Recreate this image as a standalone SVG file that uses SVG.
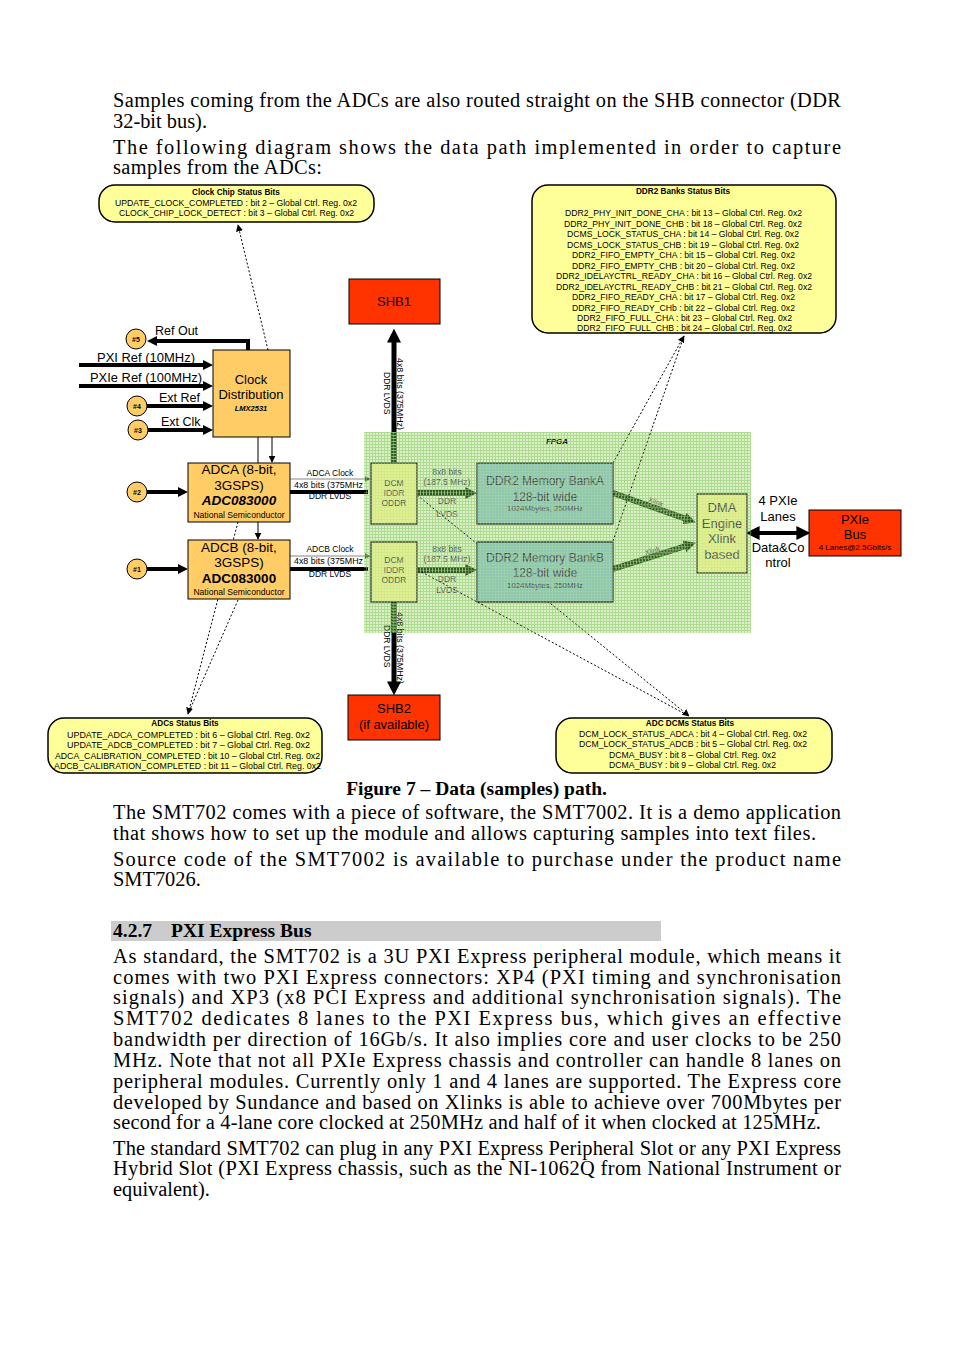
<svg xmlns="http://www.w3.org/2000/svg" width="954" height="1351" viewBox="0 0 954 1351">
<style>
.body{font-family:"Liberation Serif","Times New Roman",serif;font-size:20px;fill:#000}
.bb{font-family:"Liberation Serif","Times New Roman",serif;font-size:19.5px;font-weight:bold;fill:#000}
.s{font-family:"Liberation Sans",Arial,sans-serif;fill:#000}
.st{font-family:"Liberation Sans",Arial,sans-serif;font-size:8.2px;fill:#000}
.stb{font-family:"Liberation Sans",Arial,sans-serif;font-size:8.2px;font-weight:bold;fill:#000}
.g{font-family:"Liberation Sans",Arial,sans-serif;fill:#4a4a4a}
.c{text-anchor:middle}
.box{stroke:#000;stroke-width:1}
.stat{fill:#ffff99;stroke:#000;stroke-width:1.5}
.dot{fill:none;stroke:#000;stroke-width:1;stroke-dasharray:2,2}
.thick{fill:none;stroke:#000;stroke-width:4}
.gr{fill:none;stroke:#2f5a22;stroke-width:6}
.hatch{fill:none;stroke:#7ea55e;stroke-width:4;stroke-dasharray:1,2}
</style>
<defs>
<pattern id="grid" width="3" height="3" patternUnits="userSpaceOnUse"><rect width="3" height="3" fill="#dcf2c6"/><path d="M0 0.5H3M0.5 0V3" stroke="#a9d98e" stroke-width="1"/></pattern>
<pattern id="gover" width="3" height="3" patternUnits="userSpaceOnUse"><path d="M0 0.5H3M0.5 0V3" stroke="#b4de9a" stroke-width="0.8"/></pattern>
<marker id="a" viewBox="0 0 10 10" refX="4" refY="5" markerWidth="10" markerHeight="10" markerUnits="userSpaceOnUse" orient="auto-start-reverse"><path d="M0,0 L10,5 L0,10 z" fill="#000"/></marker>
<marker id="ab" viewBox="0 0 10 10" refX="4" refY="5" markerWidth="14" markerHeight="14" markerUnits="userSpaceOnUse" orient="auto-start-reverse"><path d="M0,0 L10,5 L0,10 z" fill="#000"/></marker>
<marker id="as" viewBox="0 0 10 10" refX="9" refY="5" markerWidth="7" markerHeight="7" markerUnits="userSpaceOnUse" orient="auto"><path d="M0,0 L10,5 L0,10 z" fill="#000"/></marker>
<marker id="ag" viewBox="0 0 10 10" refX="4" refY="5" markerWidth="12" markerHeight="12" markerUnits="userSpaceOnUse" orient="auto"><path d="M0,0 L10,5 L0,10 z" fill="#2f5a22"/></marker>
<marker id="agt" viewBox="0 0 10 10" refX="9" refY="5" markerWidth="6" markerHeight="6" markerUnits="userSpaceOnUse" orient="auto"><path d="M0,0 L10,5 L0,10 z" fill="#3c6e2c"/></marker>
</defs>

<g id="page-text" transform="translate(113,0) scale(1.02,1)">
<text class="body" x="0" y="107" textLength="713.7" lengthAdjust="spacing">Samples coming from the ADCs are also routed straight on the SHB connector (DDR</text>
<text class="body" x="0" y="128">32-bit bus).</text>
<text class="body" x="0" y="154" textLength="713.7" lengthAdjust="spacing">The following diagram shows the data path implemented in order to capture</text>
<text class="body" x="0" y="174" textLength="204.9" lengthAdjust="spacing">samples from the ADCs:</text>
<text class="body" x="0" y="819" textLength="713.7" lengthAdjust="spacing">The SMT702 comes with a piece of software, the SMT7002. It is a demo application</text>
<text class="body" x="0" y="840" textLength="689.2" lengthAdjust="spacing">that shows how to set up the module and allows capturing samples into text files.</text>
<text class="body" x="0" y="866" textLength="713.7" lengthAdjust="spacing">Source code of the SMT7002 is available to purchase under the product name</text>
<text class="body" x="0" y="886">SMT7026.</text>
</g>
<text class="bb" x="476.5" y="795" text-anchor="middle">Figure 7 – Data (samples) path.</text>
<rect x="111" y="921" width="550" height="20" fill="#cccccc"/>
<text class="bb" x="113" y="937">4.2.7</text>
<text class="bb" x="171" y="937">PXI Express Bus</text>
<g id="page-text-2" transform="translate(113,0) scale(1.02,1)">
<text class="body" x="0" y="963" textLength="713.7" lengthAdjust="spacing">As standard, the SMT702 is a 3U PXI Express peripheral module, which means it</text>
<text class="body" x="0" y="984" textLength="713.7" lengthAdjust="spacing">comes with two PXI Express connectors: XP4 (PXI timing and synchronisation</text>
<text class="body" x="0" y="1004" textLength="713.7" lengthAdjust="spacing">signals) and XP3 (x8 PCI Express and additional synchronisation signals). The</text>
<text class="body" x="0" y="1025" textLength="713.7" lengthAdjust="spacing">SMT702 dedicates 8 lanes to the PXI Express bus, which gives an effective</text>
<text class="body" x="0" y="1046" textLength="713.7" lengthAdjust="spacing">bandwidth per direction of 16Gb/s. It also implies core and user clocks to be 250</text>
<text class="body" x="0" y="1067" textLength="713.7" lengthAdjust="spacing">MHz. Note that not all PXIe Express chassis and controller can handle 8 lanes on</text>
<text class="body" x="0" y="1088" textLength="713.7" lengthAdjust="spacing">peripheral modules. Currently only 1 and 4 lanes are supported. The Express core</text>
<text class="body" x="0" y="1109" textLength="713.7" lengthAdjust="spacing">developed by Sundance and based on Xlinks is able to achieve over 700Mbytes per</text>
<text class="body" x="0" y="1129" textLength="694.1" lengthAdjust="spacing">second for a 4-lane core clocked at 250MHz and half of it when clocked at 125MHz.</text>
<text class="body" x="0" y="1155" textLength="713.7" lengthAdjust="spacing">The standard SMT702 can plug in any PXI Express Peripheral Slot or any PXI Express</text>
<text class="body" x="0" y="1175" textLength="713.7" lengthAdjust="spacing">Hybrid Slot (PXI Express chassis, such as the NI-1062Q from National Instrument or</text>
<text class="body" x="0" y="1196">equivalent).</text>
</g>

<g id="fpga">
<rect x="364" y="432" width="387" height="201" fill="url(#grid)"/>
<text class="s" x="557" y="444" font-size="8" font-weight="bold" font-style="italic" text-anchor="middle">FPGA</text>
</g>

<g id="connectors">
<path class="thick" d="M248 350 V341 H153" marker-end="url(#a)"/>
<path class="thick" d="M79 365 H207" marker-end="url(#a)"/>
<path class="thick" d="M79 386 H207" marker-end="url(#a)"/>
<path class="thick" d="M147 406 H207" marker-end="url(#a)"/>
<path class="thick" d="M148 430 H207" marker-end="url(#a)"/>
<path class="thick" d="M147 492 H182" marker-end="url(#a)"/>
<path class="thick" d="M147 569 H182" marker-end="url(#a)"/>
<path d="M258 437 V539" stroke="#000" stroke-width="1" fill="none" marker-end="url(#as)"/>
<path d="M272 437 V462" stroke="#000" stroke-width="1" fill="none" marker-end="url(#as)"/>
<path d="M290 479 H370" stroke="#888" stroke-width="1.2" fill="none" marker-end="url(#agt)"/>
<path class="thick" d="M290 492 H368"/>
<path d="M290 556 H370" stroke="#888" stroke-width="1.2" fill="none" marker-end="url(#agt)"/>
<path class="thick" d="M290 569 H368"/>
<path d="M394 463 V337" stroke="#000" stroke-width="5" fill="none" marker-end="url(#ab)"/>
<path d="M394 601 V687" stroke="#000" stroke-width="5" fill="none" marker-end="url(#ab)"/>
<path d="M394 463 V432 M394 601 V633" stroke="#2f5a22" stroke-width="5" fill="none"/>
<path d="M394 463 V432 M394 601 V633" class="hatch"/>
<path class="gr" d="M417 493 H470" marker-end="url(#ag)"/>
<path class="hatch" d="M417 493 H468"/>
<path class="gr" d="M417 570 H470" marker-end="url(#ag)"/>
<path class="hatch" d="M417 570 H468"/>
<path class="gr" d="M613 493 L689 520" marker-end="url(#ag)"/>
<path class="hatch" d="M613 493 L687 519.3"/>
<path class="gr" d="M613 569 L689 545" marker-end="url(#ag)"/>
<path class="hatch" d="M613 569 L687 545.6"/>
<path class="thick" d="M754 533 H802" marker-start="url(#ab)" marker-end="url(#ab)"/>
<path class="dot" d="M268 350 L238 225" marker-end="url(#as)"/>
<path class="dot" d="M613 463 L684 336" marker-end="url(#as)"/>
<path class="dot" d="M613 541 L684 336"/>
<path class="dot" d="M238 522 L188 714" marker-end="url(#as)"/>
<path class="dot" d="M238 600 L188 714"/>
<path class="dot" d="M417 495 L689 716" marker-end="url(#as)"/>
<path class="dot" d="M418 570 L689 716"/>
</g>

<g id="labels">
<text class="s" x="155" y="335" font-size="12.5">Ref Out</text>
<text class="s" x="97" y="362" font-size="12.5" textLength="98" lengthAdjust="spacingAndGlyphs">PXI Ref (10MHz)</text>
<text class="s" x="90" y="382" font-size="12.5" textLength="112" lengthAdjust="spacingAndGlyphs">PXIe Ref (100MHz)</text>
<text class="s" x="159" y="402" font-size="12.5">Ext Ref</text>
<text class="s" x="161" y="426" font-size="12.5">Ext Clk</text>
<text class="s c" x="330" y="476" font-size="8.5">ADCA Clock</text>
<text class="s" x="294" y="488" font-size="8.5" textLength="69" lengthAdjust="spacingAndGlyphs">4x8 bits (375MHz</text>
<text class="s c" x="330" y="499" font-size="8.5">DDR LVDS</text>
<text class="s c" x="330" y="552" font-size="8.5">ADCB Clock</text>
<text class="s" x="294" y="564" font-size="8.5" textLength="69" lengthAdjust="spacingAndGlyphs">4x8 bits (375MHz</text>
<text class="s c" x="330" y="577" font-size="8.5">DDR LVDS</text>
<text class="s" font-size="8.5" transform="translate(397,358) rotate(90)" textLength="72" lengthAdjust="spacingAndGlyphs">4x8 bits (375MHz)</text>
<text class="s" font-size="8.5" transform="translate(384,372) rotate(90)">DDR LVDS</text>
<text class="s" font-size="8.5" transform="translate(397,612) rotate(90)" textLength="72" lengthAdjust="spacingAndGlyphs">4x8 bits (375MHz)</text>
<text class="s" font-size="8.5" transform="translate(384,625) rotate(90)">DDR LVDS</text>
<text class="g c" x="447" y="475" font-size="8.5">8x8 bits</text>
<text class="g c" x="447" y="485" font-size="8.5">(187.5 MHz)</text>
<text class="g c" x="447" y="504" font-size="8.5">DDR</text>
<text class="g c" x="447" y="517" font-size="8.5">LVDS</text>
<text class="g c" x="447" y="552" font-size="8.5">8x8 bits</text>
<text class="g c" x="447" y="562" font-size="8.5">(187.5 MHz)</text>
<text class="g c" x="447" y="582" font-size="8.5">DDR</text>
<text class="g c" x="447" y="593" font-size="8.5">LVDS</text>
<text class="g c" font-size="7" transform="translate(655,504) rotate(20)">Xlink</text>
<text class="g c" font-size="7" transform="translate(653,553) rotate(-17)">Xlink</text>
<text class="s c" x="778" y="505" font-size="13">4 PXIe</text>
<text class="s c" x="778" y="521" font-size="13">Lanes</text>
<text class="s c" x="778" y="552" font-size="13">Data&amp;Co</text>
<text class="s c" x="778" y="567" font-size="13">ntrol</text>
</g>

<g id="clock-status">
<rect class="stat" x="99" y="185" width="275" height="37" rx="16"/>
<text class="stb c" x="236" y="195">Clock Chip Status Bits</text>
<text class="st" x="115" y="206" textLength="242" lengthAdjust="spacingAndGlyphs">UPDATE_CLOCK_COMPLETED : bit 2 – Global Ctrl. Reg. 0x2</text>
<text class="st" x="119" y="216" textLength="235" lengthAdjust="spacingAndGlyphs">CLOCK_CHIP_LOCK_DETECT : bit 3 – Global Ctrl. Reg. 0x2</text>
</g>

<g id="ddr2-status">
<rect class="stat" x="532" y="185" width="304" height="148" rx="16"/>
<text class="stb c" x="683" y="194">DDR2 Banks Status Bits</text>
<text class="st" x="565" y="216" textLength="237" lengthAdjust="spacingAndGlyphs">DDR2_PHY_INIT_DONE_CHA : bit 13 – Global Ctrl. Reg. 0x2</text>
<text class="st" x="564" y="226.5" textLength="238" lengthAdjust="spacingAndGlyphs">DDR2_PHY_INIT_DONE_CHB : bit 18 – Global Ctrl. Reg. 0x2</text>
<text class="st" x="567" y="237" textLength="232" lengthAdjust="spacingAndGlyphs">DCMS_LOCK_STATUS_CHA : bit 14 – Global Ctrl. Reg. 0x2</text>
<text class="st" x="567" y="247.5" textLength="232" lengthAdjust="spacingAndGlyphs">DCMS_LOCK_STATUS_CHB : bit 19 – Global Ctrl. Reg. 0x2</text>
<text class="st" x="572" y="258" textLength="223" lengthAdjust="spacingAndGlyphs">DDR2_FIFO_EMPTY_CHA : bit 15 – Global Ctrl. Reg. 0x2</text>
<text class="st" x="572" y="268.5" textLength="223" lengthAdjust="spacingAndGlyphs">DDR2_FIFO_EMPTY_CHB : bit 20 – Global Ctrl. Reg. 0x2</text>
<text class="st" x="556" y="279" textLength="256" lengthAdjust="spacingAndGlyphs">DDR2_IDELAYCTRL_READY_CHA : bit 16 – Global Ctrl. Reg. 0x2</text>
<text class="st" x="556" y="289.5" textLength="256" lengthAdjust="spacingAndGlyphs">DDR2_IDELAYCTRL_READY_CHB : bit 21 – Global Ctrl. Reg. 0x2</text>
<text class="st" x="572" y="300" textLength="223" lengthAdjust="spacingAndGlyphs">DDR2_FIFO_READY_CHA : bit 17 – Global Ctrl. Reg. 0x2</text>
<text class="st" x="572" y="310.5" textLength="223" lengthAdjust="spacingAndGlyphs">DDR2_FIFO_READY_CHb : bit 22 – Global Ctrl. Reg. 0x2</text>
<text class="st" x="577" y="321" textLength="215" lengthAdjust="spacingAndGlyphs">DDR2_FIFO_FULL_CHA : bit 23 – Global Ctrl. Reg. 0x2</text>
<text class="st" x="577" y="331" textLength="215" lengthAdjust="spacingAndGlyphs">DDR2_FIFO_FULL_CHB : bit 24 – Global Ctrl. Reg. 0x2</text>
</g>

<g id="adcs-status">
<rect class="stat" x="48" y="718" width="274" height="55" rx="16"/>
<text class="stb c" x="185" y="726">ADCs Status Bits</text>
<text class="st" x="67" y="737.5" textLength="243" lengthAdjust="spacingAndGlyphs">UPDATE_ADCA_COMPLETED : bit 6 – Global Ctrl. Reg. 0x2</text>
<text class="st" x="67" y="748" textLength="243" lengthAdjust="spacingAndGlyphs">UPDATE_ADCB_COMPLETED : bit 7 – Global Ctrl. Reg. 0x2</text>
<text class="st" x="55" y="758.5" textLength="265" lengthAdjust="spacingAndGlyphs">ADCA_CALIBRATION_COMPLETED : bit 10 – Global Ctrl. Reg. 0x2</text>
<text class="st" x="54" y="769" textLength="267" lengthAdjust="spacingAndGlyphs">ADCB_CALIBRATION_COMPLETED : bit 11 – Global Ctrl. Reg. 0x2</text>
</g>

<g id="dcms-status">
<rect class="stat" x="556" y="718" width="276" height="55" rx="16"/>
<text class="stb c" x="690" y="726">ADC DCMs Status Bits</text>
<text class="st" x="579" y="736.5" textLength="228" lengthAdjust="spacingAndGlyphs">DCM_LOCK_STATUS_ADCA : bit 4 – Global Ctrl. Reg. 0x2</text>
<text class="st" x="579" y="747" textLength="228" lengthAdjust="spacingAndGlyphs">DCM_LOCK_STATUS_ADCB : bit 5 – Global Ctrl. Reg. 0x2</text>
<text class="st" x="609" y="757.5" textLength="167" lengthAdjust="spacingAndGlyphs">DCMA_BUSY : bit 8 – Global Ctrl. Reg. 0x2</text>
<text class="st" x="609" y="768" textLength="167" lengthAdjust="spacingAndGlyphs">DCMA_BUSY : bit 9 – Global Ctrl. Reg. 0x2</text>
</g>

<g id="circles">
<circle cx="136" cy="339" r="10" fill="#ffcc66" stroke="#000" stroke-width="1"/>
<text class="s c" x="136" y="342" font-size="7" font-weight="bold">#5</text>
<circle cx="137" cy="406" r="10" fill="#ffcc66" stroke="#000" stroke-width="1"/>
<text class="s c" x="137" y="409" font-size="7" font-weight="bold">#4</text>
<circle cx="138" cy="430" r="10" fill="#ffcc66" stroke="#000" stroke-width="1"/>
<text class="s c" x="138" y="433" font-size="7" font-weight="bold">#3</text>
<circle cx="137" cy="492" r="10" fill="#ffcc66" stroke="#000" stroke-width="1"/>
<text class="s c" x="137" y="495" font-size="7" font-weight="bold">#2</text>
<circle cx="137" cy="569" r="10" fill="#ffcc66" stroke="#000" stroke-width="1"/>
<text class="s c" x="137" y="572" font-size="7" font-weight="bold">#1</text>
</g>

<g id="clock-dist">
<rect class="box" x="213" y="350" width="77" height="87" fill="#ffcc66"/>
<text class="s c" x="251" y="384" font-size="13">Clock</text>
<text class="s c" x="251" y="399" font-size="13">Distribution</text>
<text class="s c" x="251" y="411" font-size="7.5" font-weight="bold" font-style="italic">LMX2531</text>
</g>

<g id="adca">
<rect class="box" x="188" y="463" width="102" height="59" fill="#ffcc66"/>
<text class="s c" x="239" y="474" font-size="13.5">ADCA (8-bit,</text>
<text class="s c" x="239" y="490" font-size="13.5">3GSPS)</text>
<text class="s c" x="239" y="505" font-size="13.5" font-weight="bold" font-style="italic">ADC083000</text>
<text class="s c" x="239" y="518" font-size="8.6">National Semiconductor</text>
</g>

<g id="adcb">
<rect class="box" x="188" y="540" width="102" height="59" fill="#ffcc66"/>
<text class="s c" x="239" y="552" font-size="13.5">ADCB (8-bit,</text>
<text class="s c" x="239" y="567" font-size="13.5">3GSPS)</text>
<text class="s c" x="239" y="583" font-size="13.5" font-weight="bold">ADC083000</text>
<text class="s c" x="239" y="595" font-size="8.6">National Semiconductor</text>
</g>

<g id="shb1">
<rect class="box" x="349" y="279" width="91" height="45" fill="#ff3300"/>
<text class="s c" x="394" y="306" font-size="13">SHB1</text>
</g>

<g id="shb2">
<rect class="box" x="348" y="695" width="92" height="45" fill="#ff3300"/>
<text class="s c" x="394" y="713" font-size="13">SHB2</text>
<text class="s c" x="394" y="729" font-size="13">(if available)</text>
</g>

<g id="dcm-a">
<rect class="box" x="371" y="463" width="46" height="61" fill="#e2ef8a"/>
<text class="g c" x="394" y="486" font-size="8.5">DCM</text>
<text class="g c" x="394" y="496" font-size="8.5">IDDR</text>
<text class="g c" x="394" y="506" font-size="8.5">ODDR</text>
</g>

<g id="dcm-b">
<rect class="box" x="371" y="542" width="46" height="60" fill="#e2ef8a"/>
<text class="g c" x="394" y="563" font-size="8.5">DCM</text>
<text class="g c" x="394" y="573" font-size="8.5">IDDR</text>
<text class="g c" x="394" y="583" font-size="8.5">ODDR</text>
</g>

<g id="bank-a">
<rect class="box" x="477" y="463" width="136" height="61" fill="#8ec6b2"/>
<text class="g c" x="545" y="485" font-size="12">DDR2 Memory BankA</text>
<text class="g c" x="545" y="501" font-size="12">128-bit wide</text>
<text class="g c" x="545" y="511" font-size="7.8">1024Mbytes, 250MHz</text>
</g>

<g id="bank-b">
<rect class="box" x="477" y="542" width="136" height="60" fill="#8ec6b2"/>
<text class="g c" x="545" y="562" font-size="12">DDR2 Memory BankB</text>
<text class="g c" x="545" y="577" font-size="12">128-bit wide</text>
<text class="g c" x="545" y="588" font-size="7.8">1024Mbytes, 250MHz</text>
</g>

<g id="dma">
<rect class="box" x="697" y="494" width="50" height="79" fill="#e4f08c"/>
<text class="g c" x="722" y="512" font-size="13">DMA</text>
<text class="g c" x="722" y="528" font-size="13">Engine</text>
<text class="g c" x="722" y="543" font-size="13">Xlink</text>
<text class="g c" x="722" y="559" font-size="13">based</text>
</g>

<g id="grid-overlay">
<rect x="364" y="432" width="387" height="201" fill="url(#gover)" opacity="0.45"/>
</g>

<g id="pxie-bus">
<rect class="box" x="809" y="510" width="92" height="46" fill="#ff3300"/>
<text class="s c" x="855" y="524" font-size="13">PXIe</text>
<text class="s c" x="855" y="539" font-size="13">Bus</text>
<text class="s c" x="855" y="550" font-size="8">4 Lanes@2.5Gbits/s</text>
</g>
</svg>
